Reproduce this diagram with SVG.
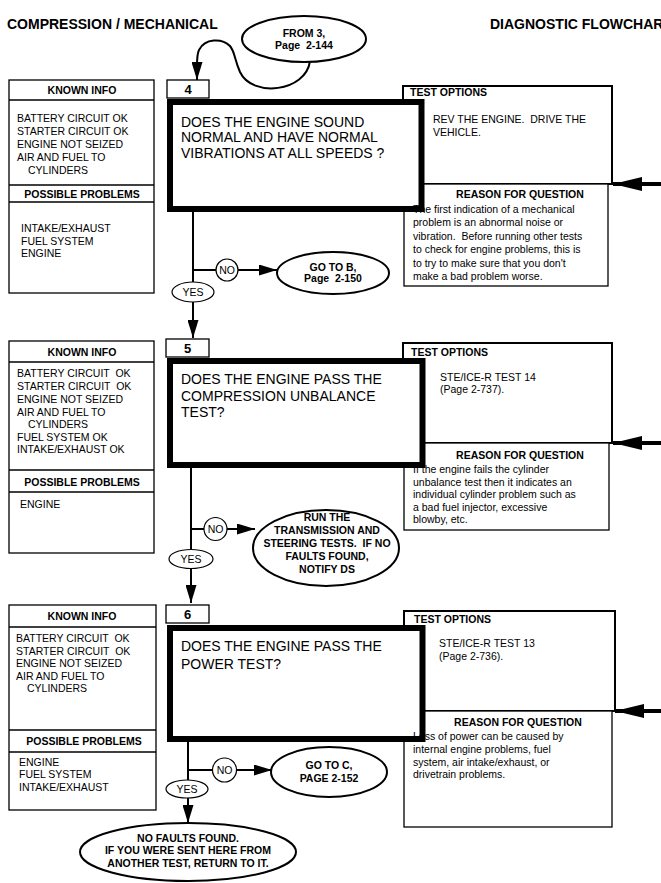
<svg xmlns="http://www.w3.org/2000/svg" width="661" height="883" viewBox="0 0 661 883">
<style>
text{font-family:"Liberation Sans",Arial,sans-serif;font-size:10.5px;fill:#000}
.b{font-weight:bold}
.q{font-size:14px}
.n{font-size:13px;font-weight:bold}
.h{font-size:14px;font-weight:bold}
.c{text-anchor:middle}
.box{fill:#fff;stroke:#000;stroke-width:1.3}
.opt{fill:#fff;stroke:#000;stroke-width:2}
.thick{fill:#fff;stroke:#000;stroke-width:6}
.oval{fill:#fff;stroke:#000;stroke-width:2}
.small{fill:#fff;stroke:#000;stroke-width:1.2}
.conn{fill:none;stroke:#000;stroke-width:2}
.side{fill:none;stroke:#000;stroke-width:4}
</style>
<defs>
<marker id="ah" markerUnits="userSpaceOnUse" markerWidth="18" markerHeight="11" refX="18" refY="5.5" orient="auto"><path d="M0,0 L18,5.5 L0,11 z" fill="#000"/></marker>
<marker id="ahs" markerUnits="userSpaceOnUse" markerWidth="29" markerHeight="14" refX="29" refY="7" orient="auto"><path d="M0,0 L29,7 L0,14 z" fill="#000"/></marker>
</defs>
<rect width="661" height="883" fill="#fff"/>
<text class="h" x="7" y="29">COMPRESSION / MECHANICAL</text>
<text class="h" x="490" y="29">DIAGNOSTIC FLOWCHART</text>

<g id="connectors">
<path class="conn" d="M310,61 C306,92 252,98 240,72 C234,58 235,52 230,46 C222,38 205,38 199,50 C197,54 197,60 197,66 L197,80" marker-end="url(#ah)"/>
<line class="conn" x1="193" y1="212" x2="193" y2="292"/>
<line class="conn" x1="193" y1="270" x2="216" y2="270"/>
<line class="conn" x1="238" y1="270" x2="277" y2="270" marker-end="url(#ah)"/>
<line class="conn" x1="193" y1="302" x2="193" y2="338" marker-end="url(#ah)"/>
<line class="side" x1="661" y1="184" x2="613" y2="184" marker-end="url(#ahs)"/>

<line class="conn" x1="191" y1="468" x2="191" y2="559"/>
<line class="conn" x1="191" y1="529" x2="204" y2="529"/>
<line class="conn" x1="227" y1="529" x2="255" y2="529" marker-end="url(#ah)"/>
<line class="conn" x1="191" y1="568" x2="191" y2="603" marker-end="url(#ah)"/>
<line class="side" x1="661" y1="443" x2="613" y2="443" marker-end="url(#ahs)"/>

<line class="conn" x1="188" y1="742" x2="188" y2="789"/>
<line class="conn" x1="188" y1="770" x2="212" y2="770"/>
<line class="conn" x1="237" y1="770" x2="272" y2="770" marker-end="url(#ah)"/>
<line class="conn" x1="188" y1="798" x2="188" y2="823" marker-end="url(#ah)"/>
<line class="side" x1="661" y1="711" x2="615" y2="711" marker-end="url(#ahs)"/>
</g>

<g id="from3">
<ellipse class="oval" cx="304" cy="39" rx="62" ry="23"/>
<text class="b c" x="304" y="37">FROM 3,</text>
<text class="b c" x="304" y="49" xml:space="preserve">Page  2-144</text>
</g>

<!-- Section 4 -->
<g id="known4">
<rect class="box" x="9" y="80" width="145" height="213"/>
<line class="box" x1="9" y1="100" x2="154" y2="100"/>
<line class="box" x1="9" y1="185" x2="154" y2="185"/>
<line class="box" x1="9" y1="202" x2="154" y2="202"/>
<text class="b c" x="82" y="94">KNOWN INFO</text>
<text x="17" y="122">BATTERY CIRCUIT OK</text>
<text x="17" y="135">STARTER CIRCUIT OK</text>
<text x="17" y="148">ENGINE NOT SEIZED</text>
<text x="17" y="161">AIR AND FUEL TO</text>
<text x="28" y="174">CYLINDERS</text>
<text class="b c" x="82" y="198">POSSIBLE PROBLEMS</text>
<text x="21" y="232">INTAKE/EXHAUST</text>
<text x="21" y="245">FUEL SYSTEM</text>
<text x="21" y="257">ENGINE</text>
</g>
<g id="test4">
<rect class="opt" x="403" y="86" width="209" height="98"/>
<text class="b" x="410" y="96">TEST OPTIONS</text>
<text x="433" y="123" xml:space="preserve">REV THE ENGINE.  DRIVE THE</text>
<text x="433" y="136">VEHICLE.</text>
</g>
<g id="reason4">
<rect class="box" x="404" y="184" width="204" height="102"/>
</g>
<g id="q4">
<rect class="thick" x="170" y="102" width="251.5" height="107"/>
<text class="q" x="181" y="127">DOES THE ENGINE SOUND</text>
<text class="q" x="181" y="142">NORMAL AND HAVE NORMAL</text>
<text class="q" x="181" y="158">VIBRATIONS AT ALL SPEEDS ?</text>
</g>
<g id="reason4-text">
<text class="b c" x="520" y="198">REASON FOR QUESTION</text>
<text x="413" y="213">The first indication of a mechanical</text>
<text x="413" y="226">problem is an abnormal noise or</text>
<text x="413" y="240" xml:space="preserve">vibration.  Before running other tests</text>
<text x="413" y="253">to check for engine problems, this is</text>
<text x="413" y="267">to try to make sure that you don't</text>
<text x="413" y="280">make a bad problem worse.</text>
</g>
<g id="num4">
<rect class="box" x="167" y="80" width="42" height="18"/>
<text class="n c" x="188" y="94">4</text>
</g>
<g id="no4">
<circle class="small" cx="227" cy="270" r="11"/>
<text class="c" x="227" y="274">NO</text>
</g>
<g id="gotoB">
<ellipse class="oval" cx="333" cy="273" rx="56" ry="21"/>
<text class="b c" x="333" y="271">GO TO B,</text>
<text class="b c" x="333" y="282" xml:space="preserve">Page  2-150</text>
</g>
<g id="yes4">
<ellipse class="small" cx="193" cy="292" rx="21" ry="10"/>
<text class="c" x="193" y="296">YES</text>
</g>

<!-- Section 5 -->
<g id="known5">
<rect class="box" x="9" y="341" width="145" height="212"/>
<line class="box" x1="9" y1="362" x2="154" y2="362"/>
<line class="box" x1="9" y1="470" x2="154" y2="470"/>
<line class="box" x1="9" y1="492" x2="154" y2="492"/>
<text class="b c" x="82" y="355.5">KNOWN INFO</text>
<text x="17" y="377" xml:space="preserve">BATTERY CIRCUIT  OK</text>
<text x="17" y="390" xml:space="preserve">STARTER CIRCUIT  OK</text>
<text x="17" y="403">ENGINE NOT SEIZED</text>
<text x="17" y="416">AIR AND FUEL TO</text>
<text x="28" y="428">CYLINDERS</text>
<text x="17" y="441">FUEL SYSTEM OK</text>
<text x="17" y="453">INTAKE/EXHAUST OK</text>
<text class="b c" x="82" y="485.5">POSSIBLE PROBLEMS</text>
<text x="20" y="508">ENGINE</text>
</g>
<g id="test5">
<rect class="opt" x="403" y="343" width="209" height="100"/>
<text class="b" x="411" y="356">TEST OPTIONS</text>
<text x="440" y="381">STE/ICE-R TEST 14</text>
<text x="440" y="393">(Page 2-737).</text>
</g>
<g id="reason5">
<rect class="box" x="404" y="443" width="205" height="87"/>
</g>
<g id="q5">
<rect class="thick" x="170" y="361" width="252.5" height="104"/>
<text class="q" x="181" y="384">DOES THE ENGINE PASS THE</text>
<text class="q" x="181" y="401">COMPRESSION UNBALANCE</text>
<text class="q" x="181" y="417">TEST?</text>
</g>
<g id="reason5-text">
<text class="b c" x="520" y="459">REASON FOR QUESTION</text>
<text x="413" y="473">If the engine fails the cylinder</text>
<text x="413" y="486">unbalance test then it indicates an</text>
<text x="413" y="498">individual cylinder problem such as</text>
<text x="413" y="511">a bad fuel injector, excessive</text>
<text x="413" y="523">blowby, etc.</text>
</g>
<g id="num5">
<rect class="box" x="166" y="339" width="43" height="18"/>
<text class="n c" x="187.5" y="353">5</text>
</g>
<g id="no5">
<circle class="small" cx="215.5" cy="529" r="11.5"/>
<text class="c" x="215.5" y="533">NO</text>
</g>
<g id="runTrans">
<ellipse class="oval" cx="326" cy="548" rx="73" ry="38"/>
<text class="b c" x="327" y="521">RUN THE</text>
<text class="b c" x="327" y="534">TRANSMISSION AND</text>
<text class="b c" x="327" y="547" xml:space="preserve">STEERING TESTS.  IF NO</text>
<text class="b c" x="327" y="560">FAULTS FOUND,</text>
<text class="b c" x="327" y="573">NOTIFY DS</text>
</g>
<g id="yes5">
<ellipse class="small" cx="191" cy="559" rx="22" ry="9.5"/>
<text class="c" x="191" y="563">YES</text>
</g>

<!-- Section 6 -->
<g id="known6">
<rect class="box" x="9" y="605" width="147" height="205"/>
<line class="box" x1="9" y1="627" x2="156" y2="627"/>
<line class="box" x1="9" y1="730" x2="156" y2="730"/>
<line class="box" x1="9" y1="752" x2="156" y2="752"/>
<text class="b c" x="82" y="620">KNOWN INFO</text>
<text x="16" y="642" xml:space="preserve">BATTERY CIRCUIT  OK</text>
<text x="16" y="654.5" xml:space="preserve">STARTER CIRCUIT  OK</text>
<text x="16" y="667">ENGINE NOT SEIZED</text>
<text x="16" y="679.5">AIR AND FUEL TO</text>
<text x="27" y="692">CYLINDERS</text>
<text class="b c" x="84" y="745">POSSIBLE PROBLEMS</text>
<text x="19" y="766">ENGINE</text>
<text x="19" y="778">FUEL SYSTEM</text>
<text x="19" y="791">INTAKE/EXHAUST</text>
</g>
<g id="test6">
<rect class="opt" x="404" y="611" width="211" height="100"/>
<text class="b" x="414" y="623">TEST OPTIONS</text>
<text x="439" y="647">STE/ICE-R TEST 13</text>
<text x="439" y="660">(Page 2-736).</text>
</g>
<g id="reason6">
<rect class="box" x="404" y="711" width="208" height="116"/>
</g>
<g id="q6">
<rect class="thick" x="170" y="628" width="252.5" height="111"/>
<text class="q" x="181" y="651">DOES THE ENGINE PASS THE</text>
<text class="q" x="181" y="669">POWER TEST?</text>
</g>
<g id="reason6-text">
<text class="b c" x="518" y="726">REASON FOR QUESTION</text>
<text x="413" y="740">Loss of power can be caused by</text>
<text x="413" y="753">internal engine problems, fuel</text>
<text x="413" y="766">system, air intake/exhaust, or</text>
<text x="413" y="778">drivetrain problems.</text>
</g>
<g id="num6">
<rect class="box" x="166" y="605" width="43" height="18"/>
<text class="n c" x="187.5" y="619">6</text>
</g>
<g id="no6">
<circle class="small" cx="224.5" cy="770" r="12"/>
<text class="c" x="224.5" y="774">NO</text>
</g>
<g id="gotoC">
<ellipse class="oval" cx="329" cy="772" rx="58" ry="25"/>
<text class="b c" x="329" y="769">GO TO C,</text>
<text class="b c" x="329" y="782">PAGE 2-152</text>
</g>
<g id="yes6">
<ellipse class="small" cx="187" cy="789" rx="21" ry="9"/>
<text class="c" x="187" y="793">YES</text>
</g>
<g id="noFaults">
<ellipse class="oval" cx="188" cy="852" rx="108" ry="29"/>
<text class="b c" x="188" y="842">NO FAULTS FOUND.</text>
<text class="b c" x="188" y="854">IF YOU WERE SENT HERE FROM</text>
<text class="b c" x="188" y="867">ANOTHER TEST, RETURN TO IT.</text>
</g>
</svg>
